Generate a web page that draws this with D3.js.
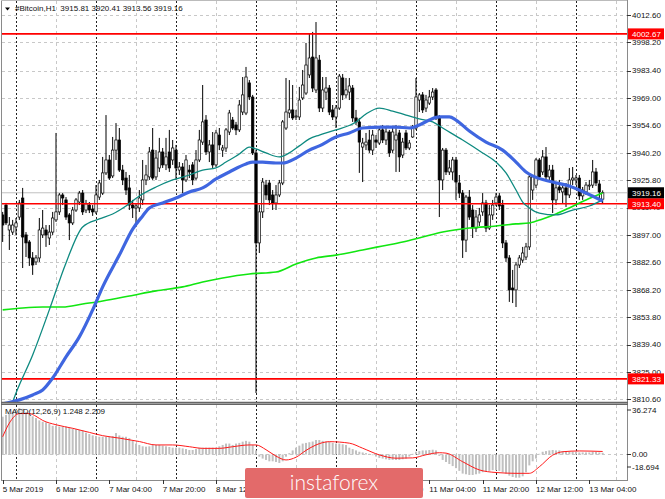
<!DOCTYPE html>
<html><head><meta charset="utf-8">
<script src="https://cdn.jsdelivr.net/npm/d3@7"></script>
<style>
html,body{margin:0;padding:0;background:#fff;}
svg{display:block;}
text{font-family:"Liberation Sans",Arial,sans-serif;}
</style></head><body>
<svg id="chart" width="665" height="499"></svg>
<script>
// ---------------- DATA ----------------
const symbolTitle = "#Bitcoin,H1  3915.81 3920.41 3913.56 3919.16";
const macdTitle = "MACD(12,26,9) 1.248 2.209";
const startTime = Date.UTC(2019, 2, 5, 20); // first H1 bar

const opens = [3907.5,3912.7,3899.6,3898.5,3901.2,3906.4,3916.4,3897.0,3893.3,3884.9,3882.8,3884.9,3897.0,3899.6,3895.4,3898.5,3904.9,3909.1,3918.0,3915.4,
3907.5,3903.3,3910.1,3914.3,3919.0,3910.1,3912.7,3910.6,3909.1,3916.9,3919.0,3929.6,3936.4,3928.0,3941.6,3946.9,3931.1,3926.9,3921.7,3912.7,
3911.2,3911.2,3915.4,3925.9,3927.5,3941.6,3927.5,3932.2,3940.6,3933.8,3940.6,3936.4,3941.6,3931.1,3932.7,3925.9,3931.1,3933.8,3926.9,3936.4,
3945.8,3957.4,3940.6,3944.3,3933.8,3949.5,3941.6,3942.7,3951.1,3957.4,3954.8,3952.2,3961.6,3961.1,3976.9,3969.5,3940.1,3892.8,3909.1,3923.2,
3924.3,3918.0,3913.8,3918.0,3924.3,3953.2,3961.1,3962.7,3959.0,3959.0,3969.0,3971.6,3981.1,3990.5,3973.2,3988.9,3963.7,3972.1,3974.2,3962.7,
3959.0,3963.7,3979.5,3970.6,3972.1,3974.2,3958.5,3956.4,3943.2,3944.3,3946.9,3941.6,3946.9,3945.3,3952.2,3946.9,3951.1,3941.6,3946.9,3950.6,
3939.0,3950.6,3942.7,3948.5,3953.2,3967.9,3970.6,3963.7,3966.3,3969.5,3973.2,3958.5,3925.9,3941.6,3930.1,3930.1,3936.4,3924.3,3919.0,3894.3,
3916.9,3910.1,3900.6,3903.8,3909.1,3913.8,3900.6,3907.5,3913.8,3917.5,3912.7,3892.8,3884.9,3869.1,3868.1,3881.2,3883.8,3885.4,3890.7,3920.6,
3923.2,3936.4,3930.1,3938.0,3927.5,3931.1,3915.4,3922.2,3919.6,3921.7,3918.0,3925.9,3925.9,3926.9,3917.5,3919.6,3922.7,3923.2,3930.1,3923.8,3915.81];
const highs = [3909.1,3913.8,3906.4,3904.9,3905.9,3915.4,3921.7,3898.5,3894.3,3888.0,3886.4,3905.9,3910.1,3902.2,3902.2,3909.1,3950.6,3919.0,3919.0,3916.9,
3908.5,3911.7,3916.4,3920.1,3920.6,3915.4,3914.3,3912.7,3923.2,3925.9,3938.0,3960.0,3939.0,3948.5,3955.8,3953.2,3933.8,3930.1,3928.5,3915.4,
3913.8,3920.6,3936.4,3933.8,3943.2,3953.2,3941.6,3948.0,3942.7,3948.0,3952.2,3946.9,3944.3,3935.3,3934.8,3939.0,3933.8,3935.3,3941.6,3952.2,
3975.8,3960.0,3946.9,3951.1,3952.2,3953.2,3944.3,3953.2,3962.7,3959.0,3956.4,3967.9,3980.0,3985.3,3978.4,3970.6,3941.6,3912.7,3926.9,3925.9,
3925.9,3920.6,3923.2,3925.9,3957.4,3979.5,3978.4,3975.8,3962.7,3974.8,3983.7,3997.9,4003.1,4003.7,4008.9,3991.6,3980.0,3980.0,3975.8,3965.3,
3965.3,3981.6,3981.6,3979.5,3979.5,3975.8,3962.7,3958.5,3948.0,3950.6,3952.2,3952.2,3949.5,3953.2,3954.8,3953.2,3952.2,3953.2,3954.8,3952.2,
3948.0,3952.2,3946.9,3954.8,3979.5,3971.6,3972.1,3970.6,3973.2,3974.2,3974.2,3960.0,3942.7,3942.7,3936.4,3938.0,3938.0,3928.5,3920.6,3918.0,
3920.6,3912.7,3910.1,3911.2,3919.0,3915.4,3912.7,3915.4,3919.0,3919.0,3915.4,3894.3,3886.4,3878.6,3882.8,3886.4,3890.7,3892.8,3928.5,3928.5,
3937.4,3937.4,3941.6,3943.2,3933.8,3933.8,3924.3,3925.9,3923.2,3924.3,3932.2,3932.7,3928.5,3928.5,3922.2,3924.8,3925.9,3936.4,3932.2,3925.9,3920.41];
const lows = [3893.3,3902.2,3889.1,3897.0,3897.0,3904.9,3879.6,3885.4,3880.7,3876.0,3881.2,3882.8,3895.4,3890.7,3891.7,3897.0,3903.8,3907.5,3912.7,3904.9,
3894.3,3902.2,3909.1,3912.7,3907.5,3908.5,3908.5,3907.0,3908.0,3915.4,3918.0,3928.5,3925.9,3926.9,3936.4,3930.1,3923.2,3918.0,3910.1,3905.9,
3901.2,3909.1,3912.7,3923.2,3925.9,3925.9,3925.9,3930.1,3932.2,3931.1,3930.1,3933.8,3925.9,3928.5,3919.0,3924.8,3926.9,3923.2,3925.9,3935.3,
3944.3,3939.0,3935.3,3932.2,3932.7,3941.6,3938.0,3940.6,3949.5,3952.2,3949.5,3951.1,3960.0,3960.0,3967.9,3939.0,3813.9,3887.5,3905.9,3915.4,
3912.7,3910.1,3910.1,3916.9,3923.2,3952.2,3958.5,3957.4,3957.4,3957.4,3967.9,3970.6,3979.5,3972.1,3971.6,3961.6,3961.6,3967.9,3960.0,3957.4,
3953.2,3962.7,3967.9,3969.0,3967.9,3956.4,3954.8,3929.6,3924.8,3941.6,3940.1,3939.0,3942.7,3944.3,3945.3,3944.3,3938.0,3940.1,3930.1,3930.1,
3937.4,3941.6,3941.6,3948.0,3952.2,3961.6,3961.1,3961.6,3965.3,3967.9,3957.4,3906.4,3920.6,3928.5,3928.5,3925.9,3915.4,3916.4,3884.9,3888.0,
3904.9,3895.4,3898.5,3901.7,3907.0,3898.5,3899.6,3904.9,3912.2,3910.1,3890.1,3882.8,3861.8,3861.2,3859.1,3879.6,3882.3,3883.8,3889.1,3915.4,
3921.7,3925.9,3928.5,3925.9,3925.9,3908.5,3912.7,3919.0,3913.8,3911.7,3916.4,3923.2,3923.2,3915.4,3915.4,3918.0,3920.6,3921.7,3922.7,3915.4,3913.56];
const closes = [3902.2,3903.3,3902.2,3902.2,3903.3,3913.8,3895.9,3892.8,3884.9,3881.2,3884.9,3899.6,3900.6,3897.0,3898.5,3905.9,3909.1,3918.0,3916.4,3906.4,
3903.3,3910.1,3915.4,3919.0,3909.1,3913.3,3910.1,3909.1,3918.0,3924.3,3929.6,3936.4,3926.9,3941.6,3946.9,3931.1,3925.9,3920.6,3912.7,3911.2,
3912.2,3916.4,3925.9,3928.5,3940.6,3926.9,3937.4,3940.6,3933.8,3938.0,3932.2,3942.7,3932.2,3932.7,3925.9,3936.4,3930.1,3925.9,3936.4,3946.9,
3956.4,3940.6,3944.3,3933.8,3950.6,3944.3,3942.7,3952.2,3961.1,3953.2,3952.2,3965.3,3970.6,3980.0,3969.5,3940.1,3892.8,3909.1,3924.8,3918.0,
3915.4,3913.8,3918.0,3924.3,3956.4,3961.6,3962.7,3958.5,3959.5,3967.9,3975.8,3986.3,3990.0,3974.2,3990.0,3963.7,3973.2,3974.2,3961.6,3959.0,
3963.7,3980.5,3970.6,3973.2,3975.3,3958.5,3956.4,3945.8,3945.3,3945.8,3941.6,3949.5,3945.8,3952.2,3946.9,3951.1,3940.1,3951.1,3949.5,3938.0,
3945.8,3942.7,3945.3,3953.7,3969.5,3970.6,3962.7,3967.9,3969.5,3972.1,3958.5,3925.9,3941.6,3930.1,3932.2,3936.4,3924.8,3919.0,3894.3,3916.9,
3906.4,3901.2,3906.4,3907.5,3913.8,3900.6,3907.5,3912.7,3916.9,3912.2,3892.8,3884.9,3868.1,3868.1,3881.2,3884.9,3887.5,3890.7,3927.5,3927.5,
3936.4,3927.5,3938.0,3927.5,3931.1,3915.4,3921.7,3920.6,3921.7,3918.0,3925.9,3926.9,3926.9,3917.5,3920.6,3923.2,3923.2,3930.1,3924.3,3919.6,3919.16];

// moving averages (bar index, value)
const blueIdx = [0,5,9,12,15,19,23,27,30,35,39,42,44,48,52,56,60,64,68,73,75,78,82,84,88,92,95,100,104,108,114,118,122,125,128,131,134,136,140,145,150,154,157,159,165,170,175,180];
const blueVal = [3808.2,3810.3,3812.9,3815.5,3821.8,3832.9,3843.4,3857.6,3869.7,3886.4,3900.1,3907.0,3911.2,3913.8,3916.4,3919.6,3921.7,3926.4,3930.1,3934.3,3935.3,3935.3,3934.8,3934.8,3937.4,3941.6,3943.8,3948.5,3950.6,3953.2,3953.7,3953.7,3953.2,3954.8,3957.4,3959.0,3959.0,3957.4,3951.6,3945.8,3941.6,3935.3,3930.1,3928.0,3924.8,3922.7,3919.0,3914.8];
const tealIdx = [3,4,9,14,19,24,29,33,37,41,46,51,56,60,64,67,71,74,76,79,83,86,89,92,95,100,106,109,113,117,121,125,129,132,138,144,148,151,154,156,158,161,166,171,176,180];
const tealVal = [3809.2,3813.9,3833.9,3857.6,3882.3,3901.2,3905.4,3908.0,3912.2,3917.5,3922.2,3925.9,3928.5,3931.1,3932.2,3935.3,3939.5,3943.2,3942.2,3940.1,3938.0,3940.1,3943.8,3947.5,3949.5,3952.2,3956.4,3960.6,3963.7,3962.1,3960.0,3958.0,3956.4,3953.2,3946.9,3940.1,3935.3,3929.6,3920.6,3914.3,3911.2,3908.5,3907.5,3910.1,3912.2,3915.4];
const greenIdx = [0,6,12,18,24,30,38,46,54,60,66,74,82,88,94,100,108,114,120,126,132,140,148,154,158,162,166,170,175,180];
const greenVal = [3857.6,3858.6,3859.1,3859.1,3860.7,3862.3,3864.9,3867.6,3869.7,3872.3,3874.4,3876.5,3877.5,3881.7,3884.9,3886.4,3889.1,3891.2,3893.3,3895.9,3898.5,3900.6,3901.7,3902.8,3903.3,3905.4,3908.0,3911.2,3915.4,3919.0];

// horizontal levels
const levelPrices = [4002.67, 3913.40, 3821.33];
const bidPrice = 3919.16;

// MACD histogram (one per bar) and signal line samples
const macdHist = [27.7,29,30.4,31.5,33,34,33.5,31,30,28,26.7,25,24,23.5,22.5,21,21,20.5,20.5,20.4,
19.5,19,18.5,18,17.5,16,15,14,13.5,13,13,13,13,13.5,15.7,14,13,13,12,10,
8,7,6,5.7,6,7,7,7,6.5,6,5.5,5,5,5,4.5,4,3.3,3.3,4,5,
5,5,5,5,5,6,7,8,8,7,8,8.5,9.4,10,9.4,7,3,-1.6,-3,-4,
-5,-5,-5.5,-6.2,-5,-1.6,1,3,5,6.5,8,8.5,9,9.5,10.6,10.6,10,9.4,9.4,8.5,
8,8,7.5,7,5,4,3,2,1.5,1,0.5,-0.5,-1.5,-2.5,-3,-3.5,-4,-4,-4,-4,
-3.5,-3,-1.5,0.5,2,2.5,3,3,3.3,3.5,3,-1,-4,-5.5,-7,-8.5,-10,-12,-14,-14.5,
-15,-15,-14.5,-14,-13,-12.5,-12,-11.5,-11.5,-12,-13,-14,-15.5,-16.5,-17,-17,-16,-13,-8,-5,
-3,0.5,2,2.5,3,3.3,3,3,2.5,2,2,2,2,1.5,1.5,1.5,1.5,2,1.8,1.5,1.248];
const sigIdx = [0,2,5,8,10,12,16,21,26,30,35,41,46,51,56,60,65,69,74,76,79,82,85,88,91,94,98,104,108,113,118,123,127,131,133,138,143,148,154,158,161,165,168,173,180];
const sigVal = [13,23,30,30,28,25,21.8,19.2,16.2,13.8,12,9.5,7,7,5.7,4.5,4.5,5.7,7,7,3.5,-1.2,-4,-2,3,7,9.4,8.3,4.6,-0.3,-2.7,-2.5,-0.2,1.3,1,-5.3,-11.3,-13.2,-13.8,-13.8,-9,-0.5,2,2.6,2.209];

// axis ticks
const priceTicks = [3810.60,3825.00,3839.40,3853.80,3868.20,3882.60,3897.00,3911.40,3925.80,3940.20,3954.60,3969.00,3983.40,3998.20,4012.60];
const macdTicks = [36.274, 0, -18.694];
const macdTickLabels = ["36.274", "0.00", "-18.694"];
const timeTicks = ["2019-03-05T20:00Z","2019-03-06T12:00Z","2019-03-07T04:00Z","2019-03-07T20:00Z","2019-03-08T12:00Z","2019-03-09T04:00Z",
"2019-03-09T20:00Z","2019-03-10T12:00Z","2019-03-11T04:00Z","2019-03-11T20:00Z","2019-03-12T12:00Z","2019-03-13T04:00Z"];

// ---------------- LAYOUT ----------------
const L = 2, R = 627, T = 1, B = 402, MT = 405, MB = 480;
const hourMs = 3600000;
const barTime = i => new Date(startTime + i * hourMs);
const nBars = opens.length;

const x = d3.scaleUtc().domain([barTime(0), barTime(nBars - 1)]).range([2.67, 602.67]);
const y = d3.scaleLinear().domain([3809.18, 4019.96]).range([B, T]);
const ym = d3.scaleLinear().domain([-18.694, 36.274]).range([MB, MT]);

const svg = d3.select("#chart");
const defs = svg.append("defs");
defs.append("clipPath").attr("id", "clipMain").append("rect").attr("x", L).attr("y", T).attr("width", R - L).attr("height", B - T);
defs.append("clipPath").attr("id", "clipMacd").append("rect").attr("x", L).attr("y", MT).attr("width", R - L).attr("height", MB - MT);

svg.append("rect").attr("width", 665).attr("height", 499).attr("fill", "#fff");

// grid
const grid = svg.append("g");
grid.selectAll("line.hg").data(priceTicks).join("line")
  .attr("x1", L).attr("x2", R).attr("y1", d => Math.round(y(d)) + 0.5).attr("y2", d => Math.round(y(d)) + 0.5)
  .attr("stroke", "#c8c8c8").attr("stroke-dasharray", "3,3");
grid.append("line").attr("x1", L).attr("x2", R).attr("y1", Math.round(ym(0)) + 0.5).attr("y2", Math.round(ym(0)) + 0.5)
  .attr("stroke", "#c8c8c8").attr("stroke-dasharray", "3,3");

const noonLines = d3.utcHour.range(new Date(Date.UTC(2019,2,6,12)), new Date(Date.UTC(2019,2,13,13)), 24);
const dayLines = d3.utcDay.range(new Date(Date.UTC(2019,2,6)), new Date(Date.UTC(2019,2,13,1)));
[[T, B], [MT, MB]].forEach(([a, b]) => {
  grid.selectAll(null).data(noonLines).join("line")
    .attr("x1", d => Math.round(x(d)) + 0.5).attr("x2", d => Math.round(x(d)) + 0.5).attr("y1", a).attr("y2", b)
    .attr("stroke", "#c8c8c8").attr("stroke-dasharray", "3,3");
  grid.selectAll(null).data(dayLines).join("line")
    .attr("x1", d => Math.round(x(d)) + 0.5).attr("x2", d => Math.round(x(d)) + 0.5).attr("y1", a).attr("y2", b)
    .attr("stroke", "#222").attr("stroke-dasharray", "2,2");
});

// main panel content
const main = svg.append("g").attr("clip-path", "url(#clipMain)");
main.append("line").attr("x1", L).attr("x2", R).attr("y1", y(bidPrice)).attr("y2", y(bidPrice)).attr("stroke", "#c0c0c0");

const candles = d3.range(nBars).map(i => ({t: barTime(i), o: opens[i], h: highs[i], l: lows[i], c: closes[i]}));
main.selectAll("line.wick").data(candles).join("line").attr("class", "wick")
  .attr("x1", d => x(d.t)).attr("x2", d => x(d.t)).attr("y1", d => y(d.h)).attr("y2", d => y(d.l))
  .attr("stroke", "#000").attr("stroke-width", 1);
main.selectAll("rect.body").data(candles).join("rect").attr("class", "body")
  .attr("x", d => x(d.t) - 1.2).attr("width", 2.4)
  .attr("y", d => y(Math.max(d.o, d.c)))
  .attr("height", d => Math.max(0.8, Math.abs(y(d.o) - y(d.c))))
  .attr("fill", d => d.c >= d.o ? "#fff" : "#000")
  .attr("stroke", "#000").attr("stroke-width", 0.7);

main.selectAll("line.level").data(levelPrices).join("line").attr("class", "level")
  .attr("x1", L).attr("x2", R).attr("y1", d => y(d)).attr("y2", d => y(d))
  .attr("stroke", "#ff0000").attr("stroke-width", 1.6);

const maLine = d3.line().x(d => x(barTime(d[0]))).y(d => y(d[1])).curve(d3.curveMonotoneX);
main.append("path").attr("d", maLine(d3.zip(greenIdx, greenVal))).attr("fill", "none").attr("stroke", "#11e611").attr("stroke-width", 1.6);
main.append("path").attr("d", maLine(d3.zip(tealIdx, tealVal))).attr("fill", "none").attr("stroke", "#0e8a80").attr("stroke-width", 1.3);
main.append("path").attr("d", maLine(d3.zip(blueIdx, blueVal))).attr("fill", "none").attr("stroke", "#3f66e0").attr("stroke-width", 3.2).attr("stroke-linejoin", "round");

// MACD panel
const macdG = svg.append("g").attr("clip-path", "url(#clipMacd)");
macdG.selectAll("rect").data(macdHist).join("rect")
  .attr("x", (d, i) => x(barTime(i)) - 1).attr("width", 2)
  .attr("y", d => Math.min(ym(d), ym(0))).attr("height", d => Math.abs(ym(d) - ym(0)))
  .attr("fill", "#c0c0c0");
const sigLine = d3.line().x(d => x(barTime(d[0]))).y(d => ym(d[1])).curve(d3.curveMonotoneX);
macdG.append("path").attr("d", sigLine(d3.zip(sigIdx, sigVal))).attr("fill", "none").attr("stroke", "#ff1a1a").attr("stroke-width", 1);

// frames
const fr = svg.append("g").attr("fill", "none");
fr.append("line").attr("x1", 1.5).attr("x2", 1.5).attr("y1", 0).attr("y2", MB).attr("stroke", "#8a8a8a");
fr.append("line").attr("x1", 1).attr("x2", R).attr("y1", 0.5).attr("y2", 0.5).attr("stroke", "#bbb");
fr.append("line").attr("x1", R + 0.5).attr("x2", R + 0.5).attr("y1", 0).attr("y2", MB).attr("stroke", "#8a8a8a");
fr.append("line").attr("x1", 1).attr("x2", R + 1).attr("y1", B + 0.5).attr("y2", B + 0.5).attr("stroke", "#666").attr("stroke-width", 1.5);
fr.append("line").attr("x1", 1).attr("x2", R + 1).attr("y1", MT - 0.8).attr("y2", MT - 0.8).attr("stroke", "#666").attr("stroke-width", 1.5);
fr.append("line").attr("x1", 1).attr("x2", R + 1).attr("y1", MB + 0.5).attr("y2", MB + 0.5).attr("stroke", "#8a8a8a");

// price axis
const ax = svg.append("g").attr("font-size", 8).attr("fill", "#111");
ax.selectAll("line.pt").data(priceTicks).join("line")
  .attr("x1", R).attr("x2", R + 4).attr("y1", d => Math.round(y(d)) + 0.5).attr("y2", d => Math.round(y(d)) + 0.5).attr("stroke", "#333");
ax.selectAll("text.pt").data(priceTicks).join("text")
  .attr("x", R + 5).attr("y", d => y(d)).attr("dy", "0.35em").text(d => d.toFixed(2));

const macdLabelY = (d, i) => i === 0 ? MT + 5 : (i === 2 ? MB - 13 : ym(d));
ax.selectAll("line.mt").data(macdTicks).join("line")
  .attr("x1", R).attr("x2", R + 4).attr("y1", macdLabelY).attr("y2", macdLabelY).attr("stroke", "#333");
ax.selectAll("text.mt").data(macdTicks).join("text")
  .attr("x", R + 5).attr("y", macdLabelY).attr("dy", "0.35em").text((d, i) => macdTickLabels[i]);

// level & bid labels
const tags = [...levelPrices.map(p => ({p, bg: "#ff0000"})), {p: bidPrice, bg: "#000"}];
const tagG = svg.append("g");
tagG.selectAll("rect").data(tags).join("rect")
  .attr("x", R + 1).attr("y", d => y(d.p) - 5.5).attr("width", 36).attr("height", 11).attr("fill", d => d.bg);
tagG.selectAll("text").data(tags).join("text")
  .attr("x", R + 5).attr("y", d => y(d.p)).attr("dy", "0.35em").attr("font-size", 8).attr("fill", "#fff").text(d => d.p.toFixed(2));

// time axis
const fmtFirst = d3.utcFormat("%-d %b %Y"), fmt = d3.utcFormat("%-d %b %H:%M");
const tt = timeTicks.map(s => new Date(s));
ax.selectAll("line.tt").data(tt).join("line")
  .attr("x1", d => Math.round(x(d)) + 0.5).attr("x2", d => Math.round(x(d)) + 0.5).attr("y1", MB).attr("y2", MB + 4).attr("stroke", "#333");
ax.selectAll("text.tt").data(tt).join("text")
  .attr("x", d => x(d)).attr("y", MB + 12).text((d, i) => i === 0 ? fmtFirst(d) : fmt(d));

// titles
svg.append("path").attr("d", "M5,7.5L10,7.5L7.5,10.5Z").attr("fill", "#000");
svg.append("text").attr("x", 15).attr("y", 11).attr("font-size", 8).attr("fill", "#111")
  .style("white-space", "pre").text(symbolTitle);
svg.append("text").attr("x", 5).attr("y", 414).attr("font-size", 8).attr("fill", "#111").text(macdTitle);

// logo
svg.append("rect").attr("x", 245).attr("y", 468).attr("width", 178).attr("height", 30).attr("rx", 2).attr("fill", "#e36a6a");
svg.append("text").attr("x", 334).attr("y", 490).attr("text-anchor", "middle").attr("font-size", 21)
  .attr("fill", "#fff").style("font-family", "Lato, 'Open Sans', sans-serif").style("font-weight", 300).text("instaforex");
</script>
</body></html>
